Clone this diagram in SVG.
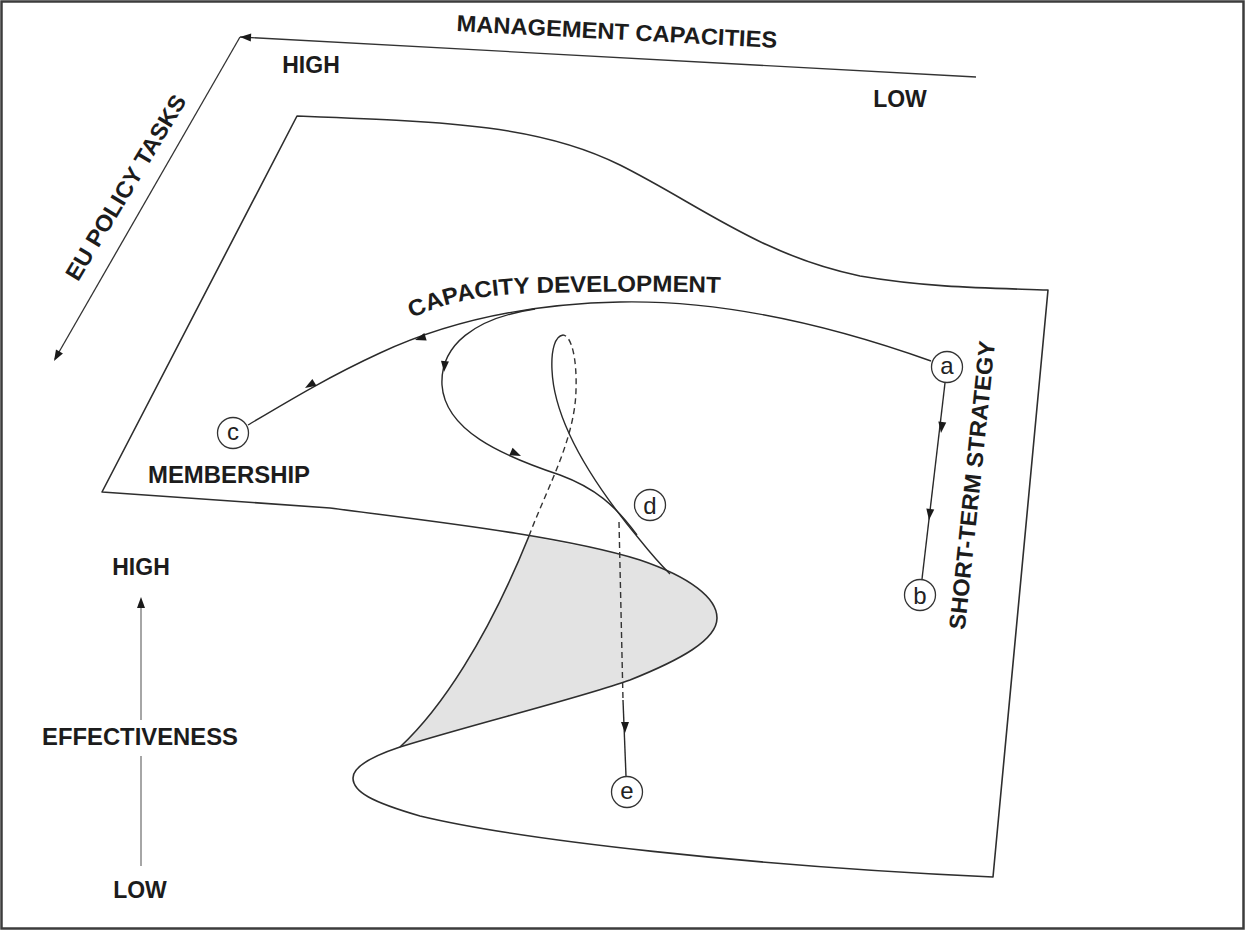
<svg xmlns="http://www.w3.org/2000/svg" width="1246" height="931" viewBox="0 0 1246 931">
<defs>
<style>
.lbl{font-family:"Liberation Sans",Arial,sans-serif;font-weight:bold;font-size:23px;fill:#1c1c1c}
.ltr{font-family:"Liberation Sans",Arial,sans-serif;font-size:24px;fill:#222;text-anchor:middle}
.ln{fill:none;stroke:#2a2a2a;stroke-width:1.4}
.edge{fill:none;stroke:#2e2e2e;stroke-width:1.6;stroke-linejoin:round}
.dash{fill:none;stroke:#333;stroke-width:1.4;stroke-dasharray:6 4}
.axis{fill:none;stroke:#333;stroke-width:1.3}
.node circle{fill:#fff;stroke:#333;stroke-width:1.3}
</style>
<path id="ah" d="M0,0 L-11,-4 L-11,4 Z" fill="#1a1a1a"/>
<path id="cdpath" d="M412,318 C445,303 480,294 540,293 C620,291 680,291 745,294"/>
</defs>
<rect x="0" y="0" width="1246" height="931" fill="#fff"/>
<g id="frame">
<rect x="1.5" y="1.5" width="1242" height="927" fill="none" stroke="#3c3c3c" stroke-width="2.5"/>
</g>

<g id="sheet">
<path id="fold-shade" d="M400,747 C440,710 487,640 529,536 C575,546 610,550 640,560 C690,577 717,598 717,618 C717,640 680,660 630,680 C580,698 470,725 400,747 Z" fill="#e3e3e3" stroke="none"/>
<path id="sheet-outline" class="edge" d="M297,116 C450,122 540,125 620,165 C700,205 760,255 860,276 C930,288 990,288 1048,290 L993,877 C750,866 520,840 420,816 C372,802 353,792 353,778 C353,768 370,757 400,747 C470,725 580,698 630,680 C680,660 717,640 717,618 C717,598 690,577 640,560 C560,535 420,520 330,508 L102,492 Z"/>
<path id="fold-left" class="edge" d="M400,747 C440,710 487,640 529,536"/>
</g>

<g id="axes">
<path class="axis" d="M240,37 L976,77"/>
<path class="axis" d="M240,37 L55,359"/>
<use href="#ah" transform="translate(240,37) rotate(183.1)"/>
<use href="#ah" transform="translate(54,361) rotate(119.8)"/>
<path d="M141,866 L141,756 M141,720 L141,602" fill="none" stroke="#777" stroke-width="1.3"/>
<use href="#ah" transform="translate(141,597) rotate(-90)"/>
</g>

<g id="connectors">
<path id="capacity-curve" class="ln" d="M931,361 C830,325 720,300 620,302 C520,304 440,325 380,353 C330,376 290,400 248,425"/>
<path id="branch" class="ln" d="M535,309 C475,318 440,345 442,385 C445,430 500,455 560,475 C595,488 615,505 637,535"/>
<path id="loop-solid" class="ln" d="M563,335 C555,336 551,350 552,370 C554,420 590,480 640,540 C652,555 662,566 670,574"/>
<path id="loop-dashed" class="dash" d="M529,536 C546,490 575,440 576,390 C577,360 572,336 563,335"/>
<path id="a-b" class="ln" d="M945,383 L922,579"/>
<path id="d-e-dash" class="dash" d="M619,522 L623,700"/>
<path id="d-e" class="ln" d="M623,700 L626,776"/>
<use href="#ah" transform="translate(415,340) rotate(163)"/>
<use href="#ah" transform="translate(305,388) rotate(149)"/>
<use href="#ah" transform="translate(444,372) rotate(95)"/>
<use href="#ah" transform="translate(521,456) rotate(24)"/>
<use href="#ah" transform="translate(941,433) rotate(96.7)"/>
<use href="#ah" transform="translate(929,520) rotate(96.7)"/>
<use href="#ah" transform="translate(625,733) rotate(90)"/>
</g>

<g id="node-a" class="node"><circle cx="947" cy="367" r="15.5"/><text class="ltr" x="947" y="373.5">a</text></g>
<g id="node-b" class="node"><circle cx="920" cy="595" r="15.5"/><text class="ltr" x="920" y="603.5">b</text></g>
<g id="node-c" class="node"><circle cx="233" cy="433" r="15.5"/><text class="ltr" x="233" y="439.5">c</text></g>
<g id="node-d" class="node"><circle cx="650" cy="505" r="15.5"/><text class="ltr" x="650" y="513.5">d</text></g>
<g id="node-e" class="node"><circle cx="627" cy="792" r="15.5"/><text class="ltr" x="627" y="798.5">e</text></g>

<g id="labels">
<text class="lbl" x="616.5" y="39.5" text-anchor="middle" textLength="321" lengthAdjust="spacingAndGlyphs" transform="rotate(3 616.5 39.5)">MANAGEMENT CAPACITIES</text>
<text class="lbl" x="311" y="73" text-anchor="middle">HIGH</text>
<text class="lbl" x="900" y="107" text-anchor="middle">LOW</text>
<text class="lbl" x="132.5" y="191.5" text-anchor="middle" textLength="212" lengthAdjust="spacingAndGlyphs" transform="rotate(-59 132.5 191.5)">EU POLICY TASKS</text>
<text class="lbl"><textPath href="#cdpath" textLength="312" lengthAdjust="spacingAndGlyphs">CAPACITY DEVELOPMENT</textPath></text>
<text class="lbl" x="229" y="483" text-anchor="middle" textLength="162" lengthAdjust="spacingAndGlyphs">MEMBERSHIP</text>
<text class="lbl" x="980" y="486" text-anchor="middle" textLength="290" lengthAdjust="spacingAndGlyphs" transform="rotate(-84 980 486)">SHORT-TERM STRATEGY</text>
<text class="lbl" x="141" y="575" text-anchor="middle">HIGH</text>
<text class="lbl" x="140" y="745" text-anchor="middle" textLength="196" lengthAdjust="spacingAndGlyphs">EFFECTIVENESS</text>
<text class="lbl" x="140" y="898" text-anchor="middle">LOW</text>
</g>
</svg>
